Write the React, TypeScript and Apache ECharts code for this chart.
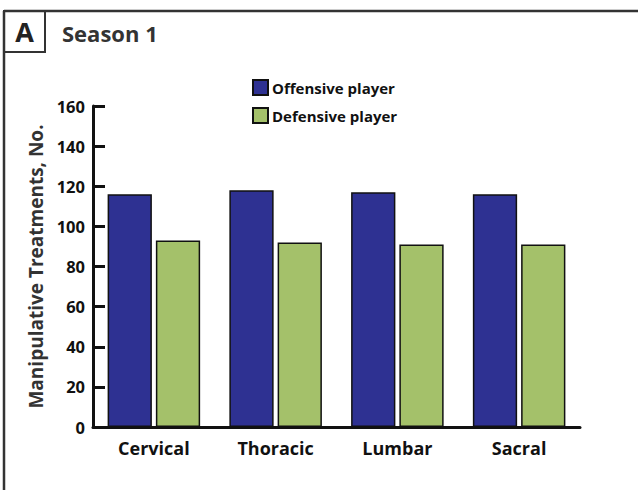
import React, { useEffect, useRef } from "react";
import * as echarts from "echarts";

const categories = ["Cervical", "Thoracic", "Lumbar", "Sacral"];
const offensive = [116, 118, 117, 116];
const defensive = [93, 92, 91, 91];
const seriesNames = ["Offensive player", "Defensive player"];
const yTicks = { min: 0, max: 160, interval: 20 };

const FONT = "'Open Sans', 'Noto Sans', sans-serif";

export default function App() {
  const ref = useRef<HTMLDivElement>(null);
  useEffect(() => {
    if (!ref.current) return;
    const chart = echarts.init(ref.current, null, { renderer: "svg" });
    chart.setOption({
      animation: false,
      backgroundColor: "#ffffff",
      textStyle: { fontFamily: FONT },
      graphic: [
        { type: "line", shape: { x1: 4, y1: 11, x2: 638, y2: 11 }, style: { stroke: "#333", lineWidth: 2.5 } },
        { type: "line", shape: { x1: 4, y1: 11, x2: 4, y2: 490 }, style: { stroke: "#333", lineWidth: 2.5 } },
        { type: "rect", shape: { x: 4, y: 11, width: 41, height: 41 }, style: { fill: "none", stroke: "#333", lineWidth: 2 } },
        { type: "text", x: 24.5, y: 31.5, style: { text: "A", fontFamily: FONT, fontWeight: "bold", fontSize: 27, fill: "#222", align: "center", verticalAlign: "middle" } },
        { type: "text", x: 62, y: 33, style: { text: "Season 1", fontFamily: FONT, fontWeight: "bold", fontSize: 22, fill: "#333", align: "left", verticalAlign: "middle" } },
      ],
      legend: {
        orient: "vertical",
        left: 247,
        top: 74,
        itemWidth: 15,
        itemHeight: 15,
        itemGap: 11,
        icon: "rect",
        data: seriesNames,
        textStyle: { fontFamily: FONT, fontWeight: "bold", fontSize: 15, color: "#111", padding: [0, 0, 0, -1] },
      },
      grid: { left: 93, right: 58, top: 106, bottom: 63, containLabel: false },
      xAxis: {
        type: "category",
        data: categories,
        axisLine: { lineStyle: { color: "#111", width: 3 } },
        axisTick: { inside: true, length: 7, lineStyle: { color: "#111", width: 3 } },
        axisLabel: { margin: 12, fontFamily: FONT, fontWeight: "bold", fontSize: 18, color: "#111" },
      },
      yAxis: {
        type: "value",
        min: yTicks.min,
        max: yTicks.max,
        interval: yTicks.interval,
        name: "Manipulative Treatments, No.",
        nameLocation: "middle",
        nameGap: 48,
        nameTextStyle: { fontFamily: FONT, fontWeight: "bold", fontSize: 19, color: "#333" },
        axisLine: { show: true, lineStyle: { color: "#111", width: 3 } },
        axisTick: { show: true, inside: true, length: 12, lineStyle: { color: "#111", width: 3 } },
        splitLine: { show: false },
        axisLabel: { margin: 8, fontFamily: FONT, fontWeight: "bold", fontSize: 16.5, color: "#111" },
      },
      series: [
        {
          name: seriesNames[0],
          type: "bar",
          data: offensive,
          barGap: "9%",
          barCategoryGap: "24%",
          itemStyle: { color: "#2E3192", borderColor: "#111", borderWidth: 1.5 },
        },
        {
          name: seriesNames[1],
          type: "bar",
          data: defensive,
          itemStyle: { color: "#A4C16A", borderColor: "#111", borderWidth: 1.5 },
        },
      ],
    });
    return () => chart.dispose();
  }, []);
  return <div ref={ref} style={{ position: "absolute", left: 0, top: 0, width: 638, height: 490 }} />;
}
